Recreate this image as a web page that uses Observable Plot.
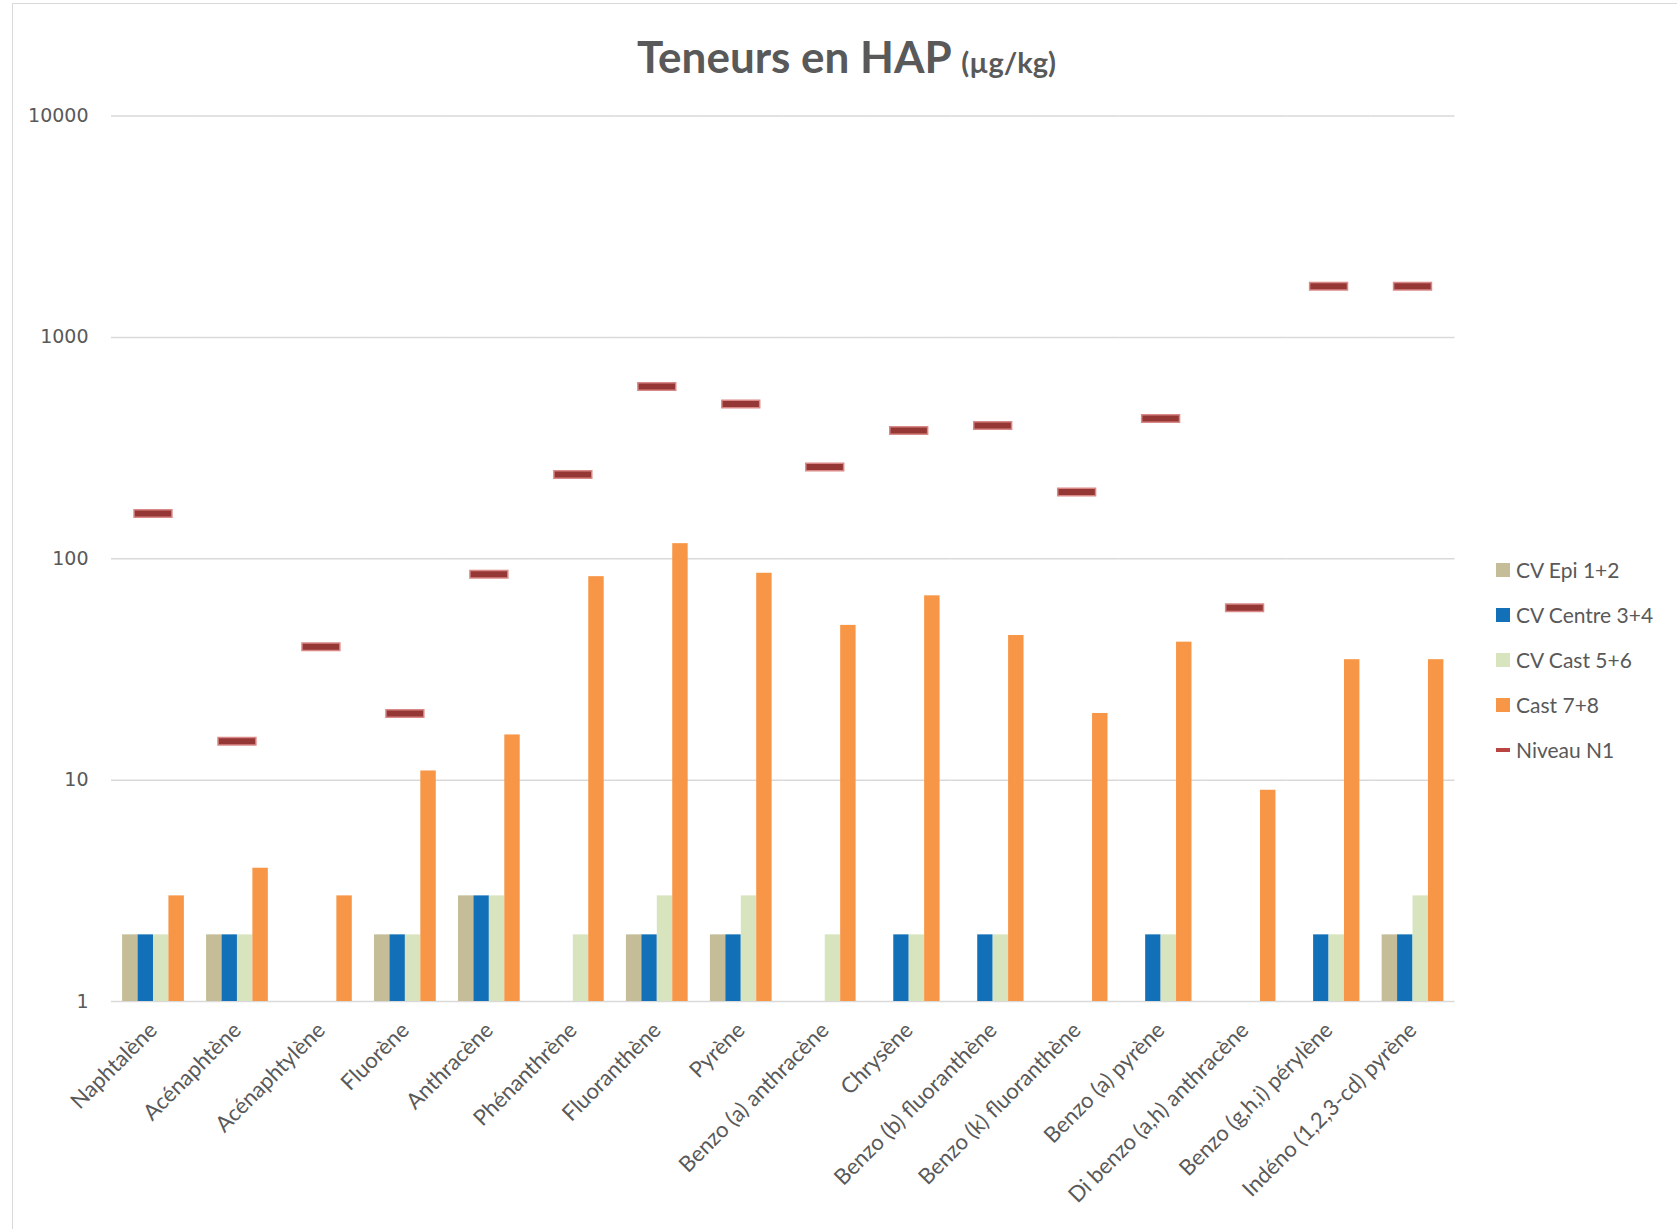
<!DOCTYPE html>
<html>
<head>
<meta charset="utf-8">
<script src="https://cdn.jsdelivr.net/npm/d3@7"></script>
<script src="https://cdn.jsdelivr.net/npm/@observablehq/plot@0.6"></script>
<style>
  html, body { margin: 0; padding: 0; background: #fff; }
  #page { position: relative; width: 1677px; height: 1229px; overflow: hidden; font-family: Lato, "Open Sans", sans-serif; color: #595959; }
  #frame { position: absolute; left: 12px; top: 3px; width: 1700px; height: 1300px; border: 1.5px solid #d9d9d9; box-sizing: border-box; }
  #title { position: absolute; left: 0; top: 34px; width: 1693px; text-align: center; font-weight: 700; font-size: 44px; color: #595959; line-height: 1; }
  #title small { font-size: 29px; }
  #chart { position: absolute; left: 0; top: 90px; }
  #legend { position: absolute; left: 1496px; top: 547px; font-size: 21px; color: #595959; }
  .item { display: flex; align-items: center; height: 45px; }
  .sw { width: 14px; height: 14px; margin-right: 6px; }
  .ln { width: 14px; height: 4px; margin-right: 6px; background: #b94442; }
</style>
</head>
<body>
<div id="page">
  <div id="frame"></div>
  <div id="title">Teneurs en HAP <small>(µg/kg)</small></div>
  <div id="chart"></div>
  <div id="legend"></div>
</div>
<script>
const categories = ["Naphtalène","Acénaphtène","Acénaphtylène","Fluorène","Anthracène","Phénanthrène","Fluoranthène","Pyrène","Benzo (a) anthracène","Chrysène","Benzo (b) fluoranthène","Benzo (k) fluoranthène","Benzo (a) pyrène","Di benzo (a,h) anthracène","Benzo (g,h,i) pérylène","Indéno (1,2,3-cd) pyrène"];
const cvEpi    = [2,2,null,2,3,null,2,2,null,null,null,null,null,null,null,2];
const cvCentre = [2,2,null,2,3,null,2,2,null,2,2,null,2,null,2,2];
const cvCast   = [2,2,null,2,3,2,3,3,2,2,2,null,2,null,2,3];
const cast78   = [3,4,3,11,16,83,117,86,50,68,45,20,42,9,35,35];
const niveauN1 = [160,15,40,20,85,240,600,500,260,380,400,200,430,60,1700,1700];
const seriesNames = ["CV Epi 1+2","CV Centre 3+4","CV Cast 5+6","Cast 7+8"];
const seriesColors = ["#c4bd97","#1170b8","#d7e4bd","#f79646"];
const yTicks = [1,10,100,1000,10000];

const seriesValues = [cvEpi, cvCentre, cvCast, cast78];
const bars = [];
seriesValues.forEach((arr, si) => arr.forEach((v, ci) => {
  if (v != null) bars.push({cat: categories[ci], series: seriesNames[si], value: v});
}));
const n1 = niveauN1.map((v, i) => ({cat: categories[i], value: v}));

const chart = Plot.plot({
  width: 1677, height: 1139,
  marginTop: 25.5, marginBottom: 228, marginLeft: 111, marginRight: 222.5,
  style: {fontFamily: "Lato, sans-serif", color: "#595959", background: "transparent"},
  fx: {domain: categories, padding: 0, round: false, label: null},
  x: {domain: seriesNames, paddingInner: 0, paddingOuter: 0.72, round: false, axis: null},
  y: {type: "log", domain: [1, 10000], axis: null},
  color: {domain: seriesNames, range: seriesColors},
  marks: [
    Plot.gridY(yTicks, {stroke: "#d9d9d9", strokeOpacity: 1, strokeWidth: 1.5}),
    Plot.barY(bars, {fx: "cat", x: "series", y1: () => 1, y2: "value", fill: "series", inset: 0}),
    Plot.tickY(n1, {fx: "cat", y: "value", stroke: "#d98886", strokeWidth: 9, insetLeft: 22.3, insetRight: 22.3}),
    Plot.tickY(n1, {fx: "cat", y: "value", stroke: "#953735", strokeWidth: 6, insetLeft: 23.8, insetRight: 23.8}),
    Plot.axisY({ticks: yTicks, tickFormat: d => String(d), tickSize: 0, tickPadding: 23, fontSize: 19, fontFamily: "DejaVu Sans", label: null}),
    Plot.axisFx({anchor: "bottom", tickRotate: -45, tickSize: 0, tickPadding: 25, fontSize: 22, label: null})
  ]
});
document.getElementById("chart").appendChild(chart);

const legend = document.getElementById("legend");
seriesNames.forEach((s, i) => {
  const d = document.createElement("div"); d.className = "item";
  d.innerHTML = `<span class="sw" style="background:${seriesColors[i]}"></span><span>${s}</span>`;
  legend.appendChild(d);
});
const d = document.createElement("div"); d.className = "item";
d.innerHTML = `<span class="ln"></span><span>Niveau N1</span>`;
legend.appendChild(d);
</script>
</body>
</html>
